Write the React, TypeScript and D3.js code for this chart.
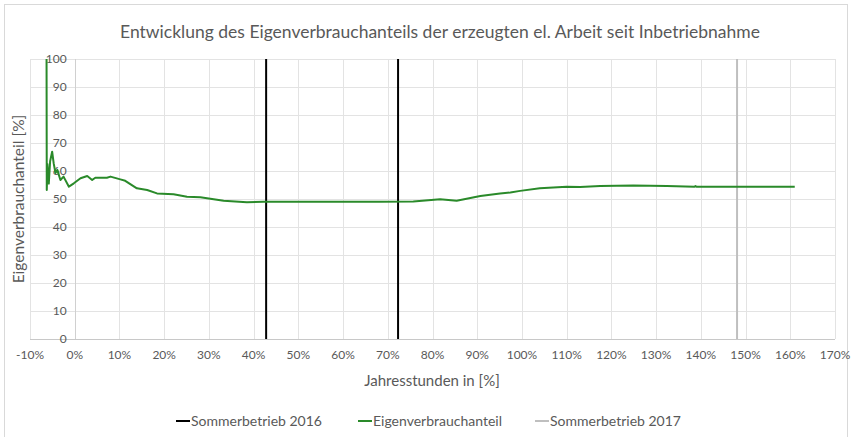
import React, { useEffect, useRef } from "react";
import * as d3 from "d3";

// Jahresstunden in % (x) und Eigenverbrauchanteil in % (y)
const hours = [
  -6.3, -6.25, -6.1, -5.8, -5.5, -5.05, -4.7, -4.3, -3.9, -3.2, -2.5, -1.3, -0.2, 1.3, 2.8, 3.9, 4.6, 7.2,
  8.0, 10.2, 11.3, 13.9, 16.2, 18.4, 22.1, 25.1, 28.1, 33.3, 38.5, 42.2, 50, 60, 68, 75.7, 81.7, 85.4,
  90.7, 95.1, 97.4, 99.6, 104, 110, 113, 117.5, 124.9, 132.4, 138.6, 138.8, 139.0, 150, 161,
];
const share = [
  100, 53.2, 62.5, 55.5, 63.5, 66.9, 62.7, 59.3, 60.4, 56.8, 58, 54.4, 55.6, 57.4, 58.2, 56.8, 57.6, 57.6,
  58.0, 57.0, 56.5, 53.8, 53.2, 52.0, 51.7, 50.8, 50.6, 49.4, 48.8, 49.0, 49.0, 49.0, 49.0, 49.1, 49.9, 49.4,
  51.1, 52.0, 52.3, 52.9, 53.8, 54.4, 54.3, 54.6, 54.8, 54.6, 54.4, 54.6, 54.4, 54.4, 54.4,
];

const summer2016 = [42.8, 72.3];
const summer2017 = [148.1];

const xTicks = d3.range(-10, 171, 10);
const yTicks = d3.range(0, 101, 10);

const legendItems = [
  { label: "Sommerbetrieb 2016", color: "#000000" },
  { label: "Eigenverbrauchanteil", color: "#2a8a2a" },
  { label: "Sommerbetrieb 2017", color: "#bfbfbf" },
];

const FONT = "Lato, 'Open Sans', sans-serif";

const App = () => {
  const svgRef = useRef<SVGSVGElement>(null);

  useEffect(() => {
    const svg = d3.select(svgRef.current);
    svg.selectAll("*").remove();

    const width = 853;
    const height = 437;
    const x = d3.scaleLinear().domain([-10, 170]).range([30, 835]);
    const y = d3.scaleLinear().domain([0, 100]).range([339, 59]);

    svg.append("rect").attr("width", width).attr("height", height).attr("fill", "#fff");
    svg
      .append("rect")
      .attr("x", 4.5)
      .attr("y", 4.5)
      .attr("width", 843)
      .attr("height", 440)
      .attr("fill", "none")
      .attr("stroke", "#d9d9d9");

    // Gitter
    const grid = svg.append("g").attr("stroke", "#e3e3e3").attr("stroke-width", 1);
    grid
      .selectAll("line.h")
      .data(yTicks.filter((d) => d > 0))
      .join("line")
      .attr("x1", x(-10))
      .attr("x2", x(170))
      .attr("y1", (d) => Math.round(y(d)) + 0.5)
      .attr("y2", (d) => Math.round(y(d)) + 0.5);
    grid
      .selectAll("line.v")
      .data(xTicks.filter((d) => d !== 0))
      .join("line")
      .attr("x1", (d) => Math.round(x(d)) + 0.5)
      .attr("x2", (d) => Math.round(x(d)) + 0.5)
      .attr("y1", y(0))
      .attr("y2", y(100));

    // Achsen
    svg
      .append("line")
      .attr("x1", Math.round(x(0)) + 0.5)
      .attr("x2", Math.round(x(0)) + 0.5)
      .attr("y1", y(0))
      .attr("y2", y(100))
      .attr("stroke", "#d0d0d0");
    svg
      .append("line")
      .attr("x1", x(-10))
      .attr("x2", x(170))
      .attr("y1", Math.round(y(0)) + 0.5)
      .attr("y2", Math.round(y(0)) + 0.5)
      .attr("stroke", "#c8c8c8");

    svg
      .append("g")
      .selectAll("text")
      .data(yTicks)
      .join("text")
      .attr("x", x(0) - 8)
      .attr("y", (d) => y(d) + 4)
      .attr("text-anchor", "end")
      .attr("fill", "#595959")
      .style("font-family", FONT)
      .style("font-size", "12px")
      .text((d) => d);

    svg
      .append("g")
      .selectAll("text")
      .data(xTicks)
      .join("text")
      .attr("x", (d) => x(d))
      .attr("y", 359)
      .attr("text-anchor", "middle")
      .attr("fill", "#595959")
      .style("font-family", FONT)
      .style("font-size", "12px")
      .text((d) => `${d}%`);

    // Sommerbetrieb-Linien
    svg
      .append("g")
      .selectAll("line")
      .data(summer2016)
      .join("line")
      .attr("x1", (d) => x(d))
      .attr("x2", (d) => x(d))
      .attr("y1", y(0))
      .attr("y2", y(100))
      .attr("stroke", "#000")
      .attr("stroke-width", 2);
    svg
      .append("g")
      .selectAll("line")
      .data(summer2017)
      .join("line")
      .attr("x1", (d) => x(d))
      .attr("x2", (d) => x(d))
      .attr("y1", y(0))
      .attr("y2", y(100))
      .attr("stroke", "#bfbfbf")
      .attr("stroke-width", 2);

    // Eigenverbrauchanteil
    const pts: [number, number][] = hours.map((h, i) => [x(h), y(share[i])]);
    svg
      .append("path")
      .attr("d", d3.line()(pts))
      .attr("fill", "none")
      .attr("stroke", "#2a8a2a")
      .attr("stroke-width", 2)
      .attr("stroke-linejoin", "round");

    // Titel
    svg
      .append("text")
      .attr("x", 440)
      .attr("y", 38)
      .attr("text-anchor", "middle")
      .attr("fill", "#595959")
      .style("font-family", FONT)
      .style("font-size", "17.5px")
      .text("Entwicklung des Eigenverbrauchanteils der erzeugten el. Arbeit seit Inbetriebnahme");

    svg
      .append("text")
      .attr("x", 432)
      .attr("y", 386)
      .attr("text-anchor", "middle")
      .attr("fill", "#595959")
      .style("font-family", FONT)
      .style("font-size", "15px")
      .text("Jahresstunden in [%]");

    svg
      .append("text")
      .attr("transform", `translate(24, ${y(50)}) rotate(-90)`)
      .attr("text-anchor", "middle")
      .attr("fill", "#595959")
      .style("font-family", FONT)
      .style("font-size", "15.5px")
      .text("Eigenverbrauchanteil [%]");

    // Legende
    const legendX = [176, 358, 535];
    const legend = svg
      .append("g")
      .selectAll("g")
      .data(legendItems)
      .join("g")
      .attr("transform", (d, i) => `translate(${legendX[i]}, 421)`);
    legend
      .append("line")
      .attr("x1", 0)
      .attr("x2", 14)
      .attr("stroke", (d) => d.color)
      .attr("stroke-width", 2);
    legend
      .append("text")
      .attr("x", 15)
      .attr("y", 5)
      .attr("fill", "#595959")
      .style("font-family", FONT)
      .style("font-size", "14px")
      .text((d) => d.label);
  }, []);

  return (
    <div style={{ position: "absolute", left: 0, top: 0, width: 853, height: 437 }}>
      <svg ref={svgRef} width={853} height={437} style={{ display: "block" }}></svg>
    </div>
  );
};

export default App;
